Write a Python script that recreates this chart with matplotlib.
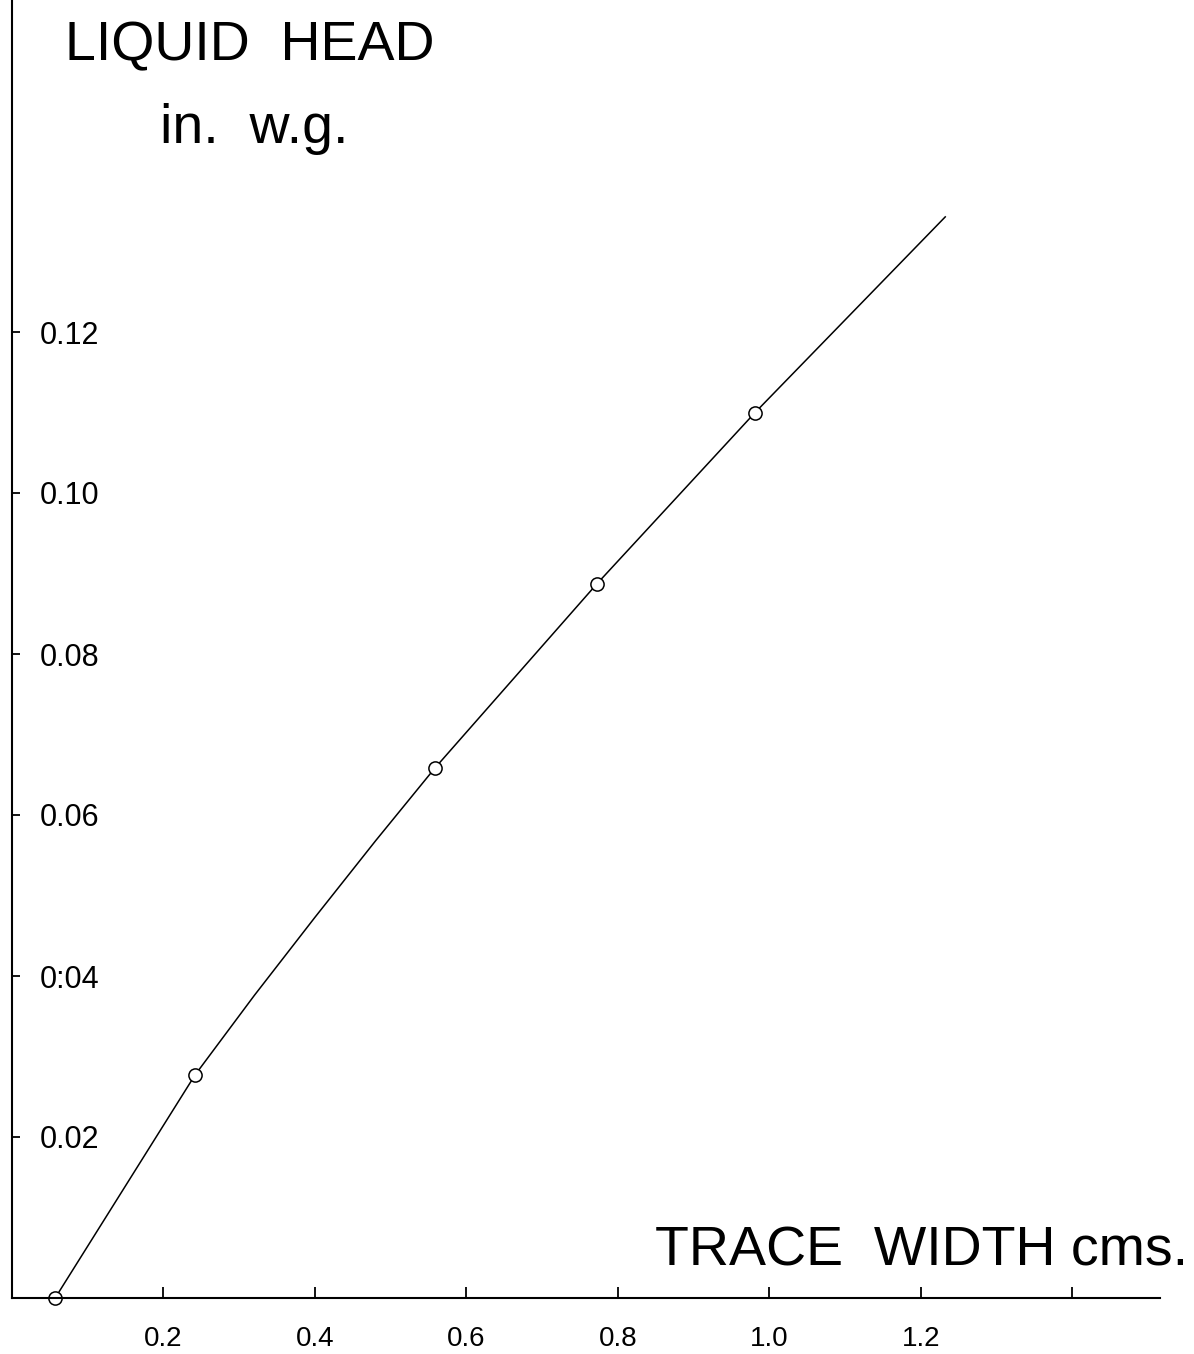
import numpy as np
import matplotlib
matplotlib.use('Agg')
import matplotlib.pyplot as plt

# pontos medidos (largura do traço x altura do líquido)
trace_width = [0.057, 0.2416, 0.558, 0.772, 0.981]
liquid_head = [0.0, 0.0277, 0.0658, 0.0887, 0.110]

# curva desenhada à mão
curve_x = [0.057, 0.2416, 0.32, 0.40, 0.48, 0.558, 0.772, 0.981, 1.232]
curve_y = [0.0, 0.0277, 0.0376, 0.0473, 0.0568, 0.0658, 0.0887, 0.110, 0.1343]

xticks = [0.2, 0.4, 0.6, 0.8, 1.0, 1.2, 1.4]
xticklabels = ['0.2', '0.4', '0.6', '0.8', '1.0', '1.2', '']
yticks = [0.02, 0.04, 0.06, 0.08, 0.10, 0.12]
yticklabels = ['0.02', '0:04', '0.06', '0.08', '0.10', '0.12']

plt.rcParams['font.family'] = ['Liberation Sans', 'DejaVu Sans']

W, H = 1194, 1354
fig = plt.figure(figsize=(W / 100, H / 100), dpi=100)
ax = fig.add_axes([12 / W, 1 - 1298 / H, (1160 - 12) / W, 1298 / H])

ax.plot(curve_x, curve_y, color='black', lw=1.1)
ax.plot(trace_width, liquid_head, 'o', ms=9.5, mfc='white', mec='black', mew=1.1,
        clip_on=False)

ax.set_xlim(0, (1160 - 12) / 757.5)
ax.set_ylim(0, 1298 / 8050)

ax.spines['top'].set_visible(False)
ax.spines['right'].set_visible(False)
ax.spines['left'].set_linewidth(1.5)
ax.spines['bottom'].set_linewidth(1.5)

ax.set_xticks(xticks)
ax.set_xticklabels(xticklabels, fontsize=20)
ax.set_yticks(yticks)
ax.set_yticklabels(yticklabels, fontsize=22, ha='left')

ax.tick_params(axis='x', direction='in', length=8, width=1.3, pad=20)
ax.tick_params(axis='y', direction='in', length=6, width=1.3, pad=-20)

fig.text(65 / W, 1 - 60 / H, 'LIQUID  HEAD', fontsize=40,
         ha='left', va='baseline')
fig.text(160 / W, 1 - 143 / H, 'in.  w.g.', fontsize=40,
         ha='left', va='baseline')
fig.text(655 / W, 1 - 1265 / H, 'TRACE  WIDTH cms.', fontsize=40,
         ha='left', va='baseline')

fig.savefig('out.png', dpi=100)
